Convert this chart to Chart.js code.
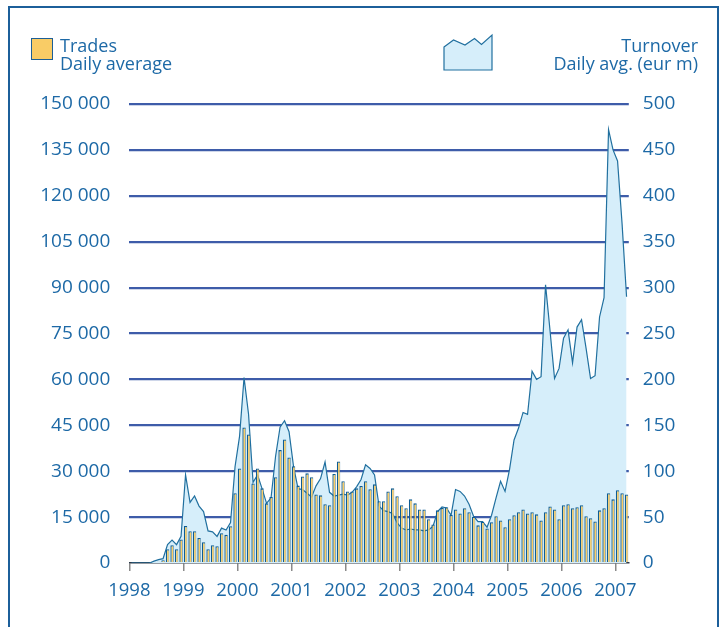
<!DOCTYPE html>
<html>
<head>
<meta charset="utf-8">
<script src="https://cdn.jsdelivr.net/npm/chart.js@4/dist/chart.umd.min.js"></script>
<style>
    html, body { margin: 0; padding: 0; background: #fff; }
    #wrap { position: relative; width: 726px; height: 627px; overflow: hidden; font-family: "Open Sans", sans-serif; color: #1d69a6; }
    #frame { position: absolute; left: 8px; top: 6px; width: 707px; height: 660px; border: 2px solid #1c5f9a; border-bottom: none; }
    #chart { position: absolute; left: 0; top: 0; }
    .leg { position: absolute; font-size: 18px; line-height: 17.5px; white-space: nowrap; }
    #swatch { position: absolute; left: 31px; top: 38px; width: 22px; height: 22px; box-sizing: border-box; background: #f9cc66; border: 1.5px solid #1d5f96; }
</style>
</head>
<body>
<div id="wrap">
    <div id="frame"></div>
    <canvas id="chart" width="726" height="627"></canvas>
    <div id="swatch"></div>
    <div class="leg" style="left:60px; top:37px;">Trades<br>Daily average</div>
    <svg style="position:absolute; left:442px; top:33px;" width="54" height="40">
        <polygon points="2,14 11.5,7 23,12 32.5,5.5 39.5,11.5 50,2 50,37 2,37" fill="#d6eefa" stroke="#21709f" stroke-width="1.2"/>
    </svg>
    <div class="leg" style="right:28px; top:37px; text-align:right;">Turnover<br>Daily avg. (eur m)</div>
</div>
<script>
// ----- D A T A  (monthly, Jan 1998 .. Mar 2007)
const START_YEAR = 1998;

// trades, daily average
const trades = [
    0, 0, 0, 0, 0, 0, 400, 900, 4500, 5800, 4500, 7700,                                  // 1998
    12100, 10400, 10400, 8200, 6800, 4500, 5800, 5500, 9700, 9200, 12000, 22800,         // 1999
    30900, 44300, 42000, 26000, 30900, 24400, 19500, 21600, 28000, 36900, 40400, 34500,  // 2000
    31600, 25300, 28300, 29300, 28000, 22400, 22100, 19200, 18900, 29100, 33200, 26700,  // 2001
    23400, 23400, 24400, 25200, 26700, 24100, 25700, 20200, 20200, 23400, 24400, 21800,  // 2002
    18900, 17900, 20800, 19500, 17500, 17500, 14300, 12600, 17200, 18000, 18200, 15700,  // 2003
    17500, 16200, 17900, 16600, 15100, 12300, 13500, 11300, 13300, 15300, 13900, 11700,  // 2004
    14300, 15600, 16600, 17500, 16200, 16600, 15900, 13900, 16600, 18500, 17500, 14300,  // 2005
    18900, 19200, 17900, 18200, 18900, 15300, 14600, 13600, 17200, 17900, 22800, 20800,  // 2006
    23800, 22800, 22400                                                                  // 2007
];

// turnover, daily avg. (eur m)
const turnover = [
    0, 0, 0, 0, 0, 2, 3.6, 4.7, 20, 25, 20, 29,
    96, 66, 73, 62, 56, 35, 34, 29, 38, 36, 44, 105,
    138, 202, 162, 88, 96, 81, 65, 71, 116, 148, 155, 143,
    105, 81, 80, 76, 72, 84, 92, 110, 77, 73, 74, 75,
    74, 77, 83, 91, 107, 103, 96, 62, 57, 56, 54, 44,
    38, 36, 37, 36, 36, 35, 36, 40, 56, 61, 60, 52,
    80, 78, 73, 64, 51, 45, 45, 39, 52, 71, 89, 78,
    102, 134, 147, 164, 162, 209, 200, 203, 303, 253, 201, 212,
    245, 254, 218, 257, 265, 234, 201, 204, 268, 289, 472, 450,
    438, 370, 290
];

const tradesTicks = [0, 150000, 15000];   // min, max, step
const turnoverTicks = [0, 500, 50];

const
    FONT_FAMILY = "Open Sans",
    TEXT_COLOR = "#1d69a6",
    GRID_COLOR = "#3e5ca9";

function fmtThousands(v) {
    if (v < 1000) return String(v);
    const rest = String(v % 1000).padStart(3, "0");
    return `${Math.floor(v / 1000)} ${rest}`;
}

const config = {
    type: "bar",
    data: {
        datasets: [
            {
                type: "bar",
                label: "Trades",
                data: trades.map((v, i) => ({ x: i + 0.5, y: v })),
                yAxisID: "y",
                backgroundColor: "#f9cc66",
                borderColor: "#0d5c94",
                borderWidth: { left: 1.3, top: 1.3, right: 0.6, bottom: 0 },
                borderSkipped: false,
                barPercentage: 0.76,
                categoryPercentage: 1,
                order: 1
            },
            {
                type: "line",
                label: "Turnover",
                data: turnover.map((v, i) => ({ x: i + 0.5, y: v })),
                yAxisID: "y2",
                fill: "origin",
                backgroundColor: "#d6eefa",
                borderColor: "#21709f",
                borderWidth: 1.2,
                pointRadius: 0,
                tension: 0,
                order: 2
            }
        ]
    },
    options: {
        responsive: false,
        animation: false,
        layout: { autoPadding: false, padding: { top: 104, left: 0, right: 0, bottom: 0 } },
        plugins: { legend: { display: false }, tooltip: { enabled: false } },
        scales: {
            x: {
                type: "linear",
                min: 0,
                max: trades.length,
                offset: false,
                afterFit: (s) => { s.height = 64; },
                border: { display: true, color: "#2c3947", width: 1.5 },
                grid: { offset: false, drawOnChartArea: false, drawTicks: true, tickLength: 8, color: "#8a8a8a", lineWidth: 1.5 },
                ticks: {
                    stepSize: 12,
                    includeBounds: false,
                    autoSkip: false,
                    maxRotation: 0,
                    padding: 9,
                    color: TEXT_COLOR,
                    font: { family: FONT_FAMILY, size: 18.5 },
                    callback: (v) => (v % 12 === 0 ? String(START_YEAR + v / 12) : "")
                }
            },
            y: {
                position: "left",
                min: tradesTicks[0],
                max: tradesTicks[1],
                afterFit: (s) => { s.width = 129.3; },
                border: { display: false },
                grid: {
                    drawTicks: false,
                    lineWidth: 2.2,
                    color: (ctx) => (ctx.tick && ctx.tick.value === 0 ? "rgba(0,0,0,0)" : GRID_COLOR)
                },
                ticks: {
                    stepSize: tradesTicks[2],
                    padding: 19,
                    color: TEXT_COLOR,
                    font: { family: FONT_FAMILY, size: 19 },
                    callback: (v) => fmtThousands(v)
                }
            },
            y2: {
                position: "right",
                min: turnoverTicks[0],
                max: turnoverTicks[1],
                afterFit: (s) => { s.width = 726 - 628.8; },
                border: { display: false },
                grid: { display: false },
                ticks: {
                    stepSize: turnoverTicks[2],
                    padding: 6,
                    color: TEXT_COLOR,
                    font: { family: FONT_FAMILY, size: 19 }
                }
            }
        }
    }
};

window.mainChart = new Chart(document.getElementById("chart"), config);
</script>
</body>
</html>
